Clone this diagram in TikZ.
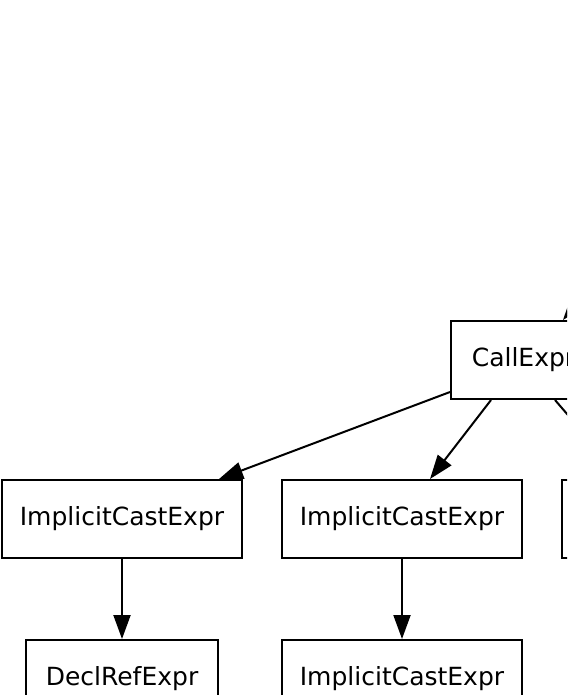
\documentclass[tikz,border=0pt]{standalone}
\usepackage{fontspec}
\setmainfont{DejaVu Sans}
\usetikzlibrary{arrows.meta}
\begin{document}
\begin{tikzpicture}[x=1pt,y=-1pt,
 box/.style={draw, line width=2pt, minimum height=78pt, inner sep=0pt, font=\fontsize{25}{29}\selectfont},
 edge/.style={line width=2pt, -{Triangle[length=24pt,width=17pt]}}]
\useasboundingbox (0,0) rectangle (567,695);
\clip (0,0) rectangle (567,695);
\node[box, minimum width=145pt] (call) at (523.5,360) {CallExpr};
\node[box, minimum width=240pt] (ice1) at (122,519) {ImplicitCastExpr};
\node[box, minimum width=240pt] (ice2) at (402,519) {ImplicitCastExpr};
\node[box, minimum width=240pt] (third) at (682,519) {};
\node[box, minimum width=192pt] (decl) at (122,679) {DeclRefExpr};
\node[box, minimum width=240pt] (ice3) at (402,679) {ImplicitCastExpr};
\coordinate (parent) at (626,242);
\draw[edge] (parent) -- ([xshift=113pt]call.north west);
\draw[edge] ([yshift=8pt]call.south west) -- ([xshift=-24pt]ice1.north east);
\draw[edge] ([xshift=41pt]call.south west) -- ([xshift=28pt]ice2.north);
\draw[edge] ([xshift=105pt]call.south west) -- ([xshift=62pt]third.north west);
\draw[edge] (ice1.south) -- (decl.north);
\draw[edge] (ice2.south) -- (ice3.north);
\end{tikzpicture}
\end{document}
